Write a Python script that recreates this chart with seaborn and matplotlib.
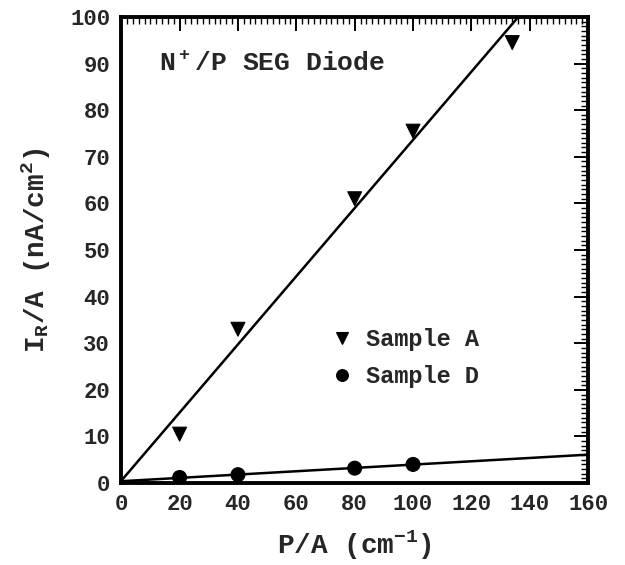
import numpy as np
import pandas as pd
import matplotlib
matplotlib.use('Agg')
import matplotlib.pyplot as plt
import seaborn as sns
from matplotlib.ticker import MultipleLocator

# values
pa_A = [20, 40, 80, 100, 134]
ir_A = [10.5, 33.0, 61.0, 75.5, 94.5]
pa_D = [20, 40, 80, 100]
ir_D = [1.2, 1.8, 3.2, 4.0]

# fitted lines (end points)
fit_x = [0, 160]
fit_A = [0.5, 117.5]
fit_D = [0.4, 6.1]

sns.set_theme(style='white')
plt.rcParams['font.family'] = ['Liberation Mono', 'DejaVu Sans']
plt.rcParams['font.weight'] = 'bold'
plt.rcParams['mathtext.default'] = 'regular'

df = pd.DataFrame({
    'P/A': pa_A + pa_D,
    'IR/A': ir_A + ir_D,
    'sample': ['Sample A'] * len(pa_A) + ['Sample D'] * len(pa_D),
})

fig = plt.figure(figsize=(6.25, 5.65), dpi=100)
ax = fig.add_axes([0.194, 0.145, 0.747, 0.825])

sns.lineplot(x=fit_x, y=fit_A, ax=ax, color='black', lw=1.8)
sns.lineplot(x=fit_x, y=fit_D, ax=ax, color='black', lw=1.8)
sns.scatterplot(data=df, x='P/A', y='IR/A', hue='sample', style='sample',
                markers={'Sample A': 'v', 'Sample D': 'o'},
                palette={'Sample A': 'black', 'Sample D': 'black'},
                s=100, edgecolor='black', ax=ax, zorder=5)

ax.set_xlim(0, 160)
ax.set_ylim(0, 100)
ax.xaxis.set_major_locator(MultipleLocator(20))
ax.xaxis.set_minor_locator(MultipleLocator(2))
ax.yaxis.set_major_locator(MultipleLocator(10))
ax.yaxis.set_minor_locator(MultipleLocator(1))
ax.tick_params(which='both', direction='in', top=True, right=True, color='black')
ax.tick_params(which='major', length=10, width=1.4, labelsize=16, pad=8)
ax.tick_params(which='minor', length=5, width=1.0)
for lab in ax.get_xticklabels() + ax.get_yticklabels():
    lab.set_fontweight('bold')
for sp in ax.spines.values():
    sp.set_linewidth(2.8)
    sp.set_color('black')

ax.set_xlabel('P/A (cm$^{-1}$)', fontsize=20, fontweight='bold', labelpad=10)
ax.set_ylabel('I$_R$/A (nA/cm$^2$)', fontsize=20, fontweight='bold', labelpad=12)

ax.text(13, 90, 'N$^+$/P SEG Diode', fontsize=19, fontweight='bold', va='center')

leg = ax.legend(loc='upper left', bbox_to_anchor=(0.448, 0.333), frameon=False,
                fontsize=17, borderpad=0, borderaxespad=0, handlelength=1.0,
                handletextpad=0.5, labelspacing=0.62, markerscale=0.85)
for t in leg.get_texts():
    t.set_fontweight('bold')

fig.savefig('out.png', dpi=100)
